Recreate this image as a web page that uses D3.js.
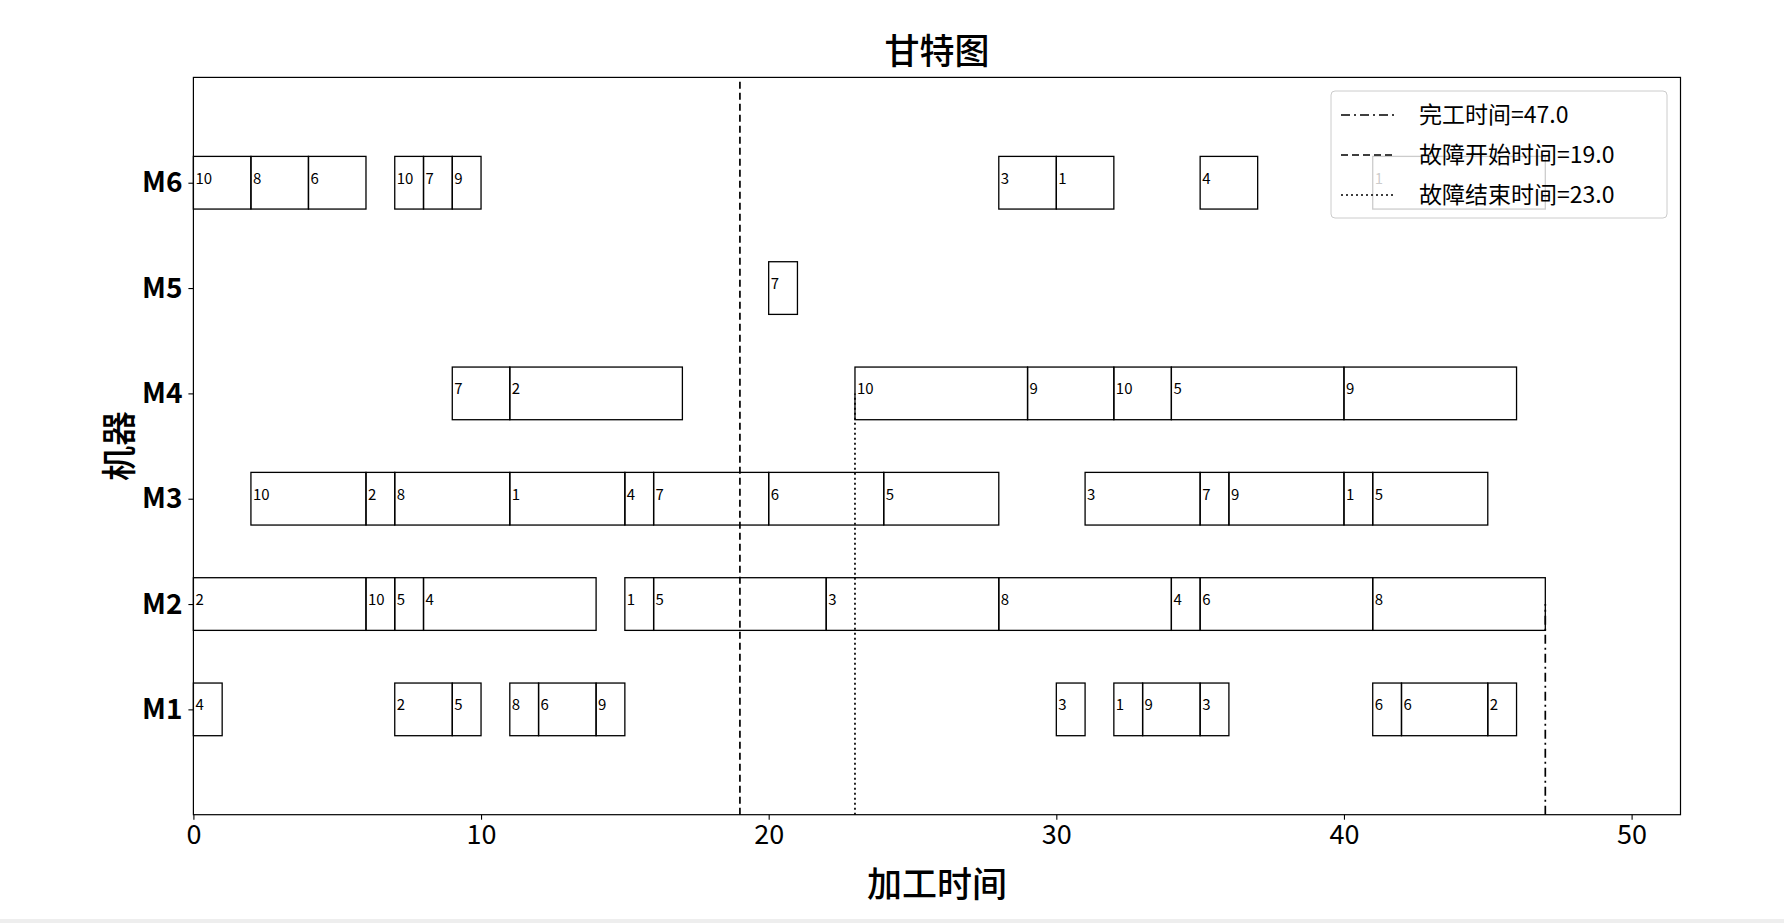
<!DOCTYPE html>
<html>
<head>
<meta charset="utf-8">
<script src="https://cdn.jsdelivr.net/npm/d3@7"></script>
<style>
  html, body { margin: 0; padding: 0; background: #fff; }
  svg { display: block; }
  text { font-family: "Noto Sans CJK SC", "DejaVu Sans", sans-serif; }
</style>
</head>
<body>
<div id="canvas"></div>
<script>
// machine rows (y = 1..6)
const machines = ["M1", "M2", "M3", "M4", "M5", "M6"];
const xTicks = [0, 10, 20, 30, 40, 50];

// each operation: machine index, start, end, job number
const opMachine = [
  1, 1, 1, 1, 1, 1, 1, 1, 1, 1, 1, 1, 1,
  2, 2, 2, 2, 2, 2, 2, 2, 2, 2, 2,
  3, 3, 3, 3, 3, 3, 3, 3, 3, 3, 3, 3, 3,
  4, 4, 4, 4, 4, 4, 4,
  5,
  6, 6, 6, 6, 6, 6, 6, 6, 6, 6
];
const opStart = [
  0, 7, 9, 11, 12, 14, 30, 32, 33, 35, 41, 42, 45,
  0, 6, 7, 8, 15, 16, 22, 28, 34, 35, 41,
  2, 6, 7, 11, 15, 16, 20, 24, 31, 35, 36, 40, 41,
  9, 11, 23, 29, 32, 34, 40,
  20,
  0, 2, 4, 7, 8, 9, 28, 30, 35, 41
];
const opEnd = [
  1, 9, 10, 12, 14, 15, 31, 33, 35, 36, 42, 45, 46,
  6, 7, 8, 14, 16, 22, 28, 34, 35, 41, 47,
  6, 7, 11, 15, 16, 20, 24, 28, 35, 36, 40, 41, 45,
  11, 17, 29, 32, 34, 40, 46,
  21,
  2, 4, 6, 8, 9, 10, 30, 32, 37, 47
];
const opJob = [
  4, 2, 5, 8, 6, 9, 3, 1, 9, 3, 6, 6, 2,
  2, 10, 5, 4, 1, 5, 3, 8, 4, 6, 8,
  10, 2, 8, 1, 4, 7, 6, 5, 3, 7, 9, 1, 5,
  7, 2, 10, 9, 10, 5, 9,
  7,
  10, 8, 6, 10, 7, 9, 3, 1, 4, 1
];

const makespan = 47.0, faultStart = 19.0, faultEnd = 23.0;

const W = 1784, H = 923;
const margin = { left: 193.4, right: W - 1680.5, top: 77.4, bottom: H - 814.7 };

const svg = d3.select("#canvas").append("svg")
  .attr("width", W).attr("height", H);

const x = d3.scaleLinear().domain([0, makespan * 1.1]).range([margin.left, W - margin.right]);
const y = d3.scaleLinear().domain([0, 7]).range([H - margin.bottom, margin.top]);

const ops = opStart.map((s, i) => ({ m: opMachine[i], s: s, e: opEnd[i], job: opJob[i] }));
const barH = y(0) - y(0.5);

// bars
const g = svg.append("g");
g.selectAll("rect.op").data(ops).enter().append("rect")
  .attr("class", "op")
  .attr("x", d => x(d.s))
  .attr("y", d => y(d.m) - barH / 2)
  .attr("width", d => x(d.e) - x(d.s))
  .attr("height", barH)
  .attr("fill", "none")
  .attr("stroke", "#000")
  .attr("stroke-width", 1.3);

g.selectAll("text.job").data(ops).enter().append("text")
  .attr("class", "job")
  .attr("x", d => x(d.s) + 2)
  .attr("y", d => y(d.m) + 1)
  .attr("font-size", 15)
  .style("font-stretch", "condensed")
  .text(d => d.job);

// fault / makespan lines
const vlines = [
  { t: makespan, top: 2, dash: "9,4,2,4", label: "完工时间=" + makespan.toFixed(1) },
  { t: faultStart, top: 7, dash: "7,4", label: "故障开始时间=" + faultStart.toFixed(1) },
  { t: faultEnd, top: 4, dash: "2,3", label: "故障结束时间=" + faultEnd.toFixed(1) }
];
svg.selectAll("line.v").data(vlines).enter().append("line")
  .attr("class", "v")
  .attr("x1", d => x(d.t)).attr("x2", d => x(d.t))
  .attr("y1", y(0)).attr("y2", d => y(d.top))
  .attr("stroke", "#000").attr("stroke-width", 1.7)
  .attr("stroke-dasharray", d => d.dash);

// axes
const xAxis = svg.append("g")
  .attr("transform", "translate(0," + y(0) + ")")
  .call(d3.axisBottom(x).tickValues(xTicks).tickSize(5).tickPadding(5));
xAxis.selectAll("text").attr("font-size", 27).attr("fill", "#000")
  .style("font-family", "'Noto Sans CJK SC', sans-serif");

const yAxis = svg.append("g")
  .attr("transform", "translate(" + x(0) + ",0)")
  .call(d3.axisLeft(y).tickValues(d3.range(1, 7)).tickFormat(d => machines[d - 1]).tickSize(5).tickPadding(6));
yAxis.selectAll("text").attr("font-size", 28).attr("font-weight", "bold").attr("fill", "#000")
  .style("font-family", "'Noto Sans CJK SC', sans-serif");
svg.selectAll(".domain").remove();
svg.selectAll(".tick line").attr("stroke", "#000").attr("stroke-width", 1.1);

// frame
svg.append("rect")
  .attr("x", x(0)).attr("y", y(7))
  .attr("width", x(makespan * 1.1) - x(0)).attr("height", y(0) - y(7))
  .attr("fill", "none").attr("stroke", "#000").attr("stroke-width", 1.2);

// titles
svg.append("text").attr("x", (x(0) + x(makespan * 1.1)) / 2).attr("y", 64)
  .attr("text-anchor", "middle").attr("font-size", 35).attr("font-weight", 500).text("甘特图");
svg.append("text").attr("x", (x(0) + x(makespan * 1.1)) / 2).attr("y", 897)
  .attr("text-anchor", "middle").attr("font-size", 35).attr("font-weight", 500).text("加工时间");
svg.append("text")
  .attr("transform", "translate(132," + ((y(0) + y(7)) / 2) + ") rotate(-90)")
  .attr("text-anchor", "middle").attr("font-size", 35).attr("font-weight", 500).text("机器");

// legend
const lg = svg.append("g").attr("transform", "translate(1331,91)");
lg.append("rect").attr("width", 336).attr("height", 127).attr("rx", 4)
  .attr("fill", "#fff").attr("fill-opacity", 0.8)
  .attr("stroke", "#ccc").attr("stroke-width", 1);
vlines.forEach((d, i) => {
  const cy = 24 + i * 40;
  lg.append("line").attr("x1", 10).attr("x2", 64).attr("y1", cy).attr("y2", cy)
    .attr("stroke", "#000").attr("stroke-width", 1.7).attr("stroke-dasharray", d.dash);
  lg.append("text").attr("x", 88).attr("y", cy + 8).attr("font-size", 23).text(d.label);
});

// bottom strip of the screenshot
svg.append("rect").attr("x", 0).attr("y", H - 4).attr("width", W).attr("height", 4).attr("fill", "#eee");
</script>
</body>
</html>
